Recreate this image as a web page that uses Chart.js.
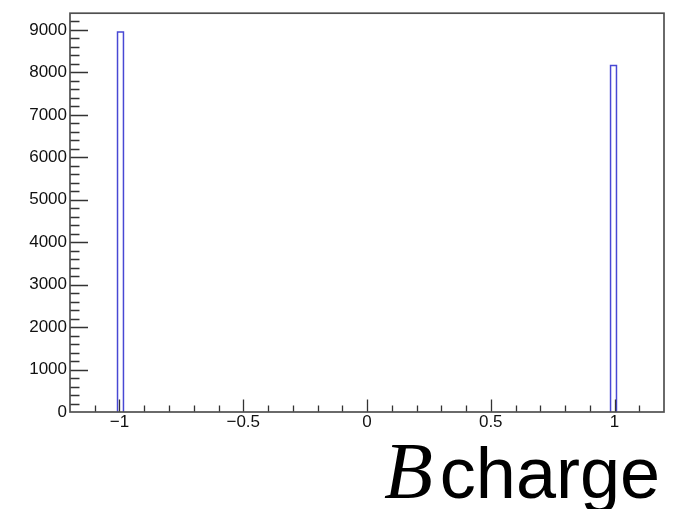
<!DOCTYPE html>
<html>
<head>
<meta charset="utf-8">
<script src="https://cdn.jsdelivr.net/npm/chart.js@4.4.0/dist/chart.umd.min.js"></script>
<style>
  html, body { margin: 0; padding: 0; background: #ffffff; }
  canvas { display: block; }
</style>
</head>
<body>
<canvas id="c" width="681" height="509"></canvas>
<script>
// ---- data ----
const binLow    = [-1.008, 0.984];   // lower edge of each filled bin
const binHigh   = [-0.984, 1.008];   // upper edge of each filled bin
const binCounts = [8950, 8160];      // entries in each filled bin

const xTickValues = [-1, -0.5, 0, 0.5, 1];
const xTickLabels = ['\u22121', '\u22120.5', '0', '0.5', '1'];
const yTickValues = [0, 1000, 2000, 3000, 4000, 5000, 6000, 7000, 8000, 9000];
const yTickLabels = ['0', '1000', '2000', '3000', '4000', '5000', '6000', '7000', '8000', '9000'];

const xRange = [-1.2, 1.2];
const yMax = 9395;
const xMinorStep = 0.1;
const yMinorStep = 200;
const titleItalic = 'B';
const titleText = 'charge';

// build histogram outline points from bin arrays
const histPoints = [];
for (let i = 0; i < binCounts.length; i++) {
  histPoints.push({x: binLow[i], y: 0});
  histPoints.push({x: binLow[i], y: binCounts[i]});
  histPoints.push({x: binHigh[i], y: binCounts[i]});
  histPoints.push({x: binHigh[i], y: 0});
  if (i < binCounts.length - 1) histPoints.push({x: (binHigh[i] + binLow[i + 1]) / 2, y: null});
}

const rootAxes = {
  id: 'rootAxes',
  afterDatasetsDraw(chart) {
    const ctx = chart.ctx;
    const xs = chart.scales.x, ys = chart.scales.y;
    const a = chart.chartArea;
    ctx.save();
    ctx.strokeStyle = '#333333';
    ctx.lineWidth = 1.3;
    ctx.beginPath();
    const nx = Math.round((xRange[1] - xRange[0]) / xMinorStep);
    for (let k = 1; k < nx; k++) {
      const v = xRange[0] + k * xMinorStep;
      const isMajor = xTickValues.some(t => Math.abs(t - v) < 1e-6);
      const px = Math.round(xs.getPixelForValue(v)) + 0.5;
      const len = isMajor ? 12.5 : 6.5;
      ctx.moveTo(px, a.bottom);
      ctx.lineTo(px, a.bottom - len);
    }
    for (let v = yMinorStep; v < yMax; v += yMinorStep) {
      const isMajor = yTickValues.includes(v);
      const py = Math.round(ys.getPixelForValue(v)) + 0.5;
      const len = isMajor ? 18 : 9.5;
      ctx.moveTo(a.left, py);
      ctx.lineTo(a.left + len, py);
    }
    ctx.stroke();
    ctx.strokeStyle = '#505050';
    ctx.lineWidth = 1.7;
    ctx.strokeRect(a.left, a.top, a.right - a.left, a.bottom - a.top);
    ctx.restore();
  },
  afterDraw(chart) {
    const ctx = chart.ctx;
    ctx.save();
    ctx.fillStyle = '#000000';
    ctx.textBaseline = 'alphabetic';
    ctx.textAlign = 'left';
    ctx.font = '72px "Liberation Sans", Arial, sans-serif';
    const wC = ctx.measureText(titleText).width;
    const xC = 660 - wC;
    const baseY = 498;
    ctx.fillText(titleText, xC, baseY);
    ctx.font = 'italic 80px "Liberation Serif", "Times New Roman", serif';
    const wB = ctx.measureText(titleItalic).width;
    ctx.fillText(titleItalic, xC - wB - 7, baseY);
    ctx.restore();
  }
};

const tickFont = { family: '"Liberation Sans", Arial, sans-serif', size: 17 };

new Chart(document.getElementById('c'), {
  type: 'line',
  data: {
    datasets: [{
      data: histPoints,
      borderColor: 'rgb(72,72,212)',
      borderWidth: 1.5,
      pointRadius: 0,
      fill: false,
      tension: 0,
      spanGaps: false
    }]
  },
  options: {
    responsive: false,
    animation: false,
    devicePixelRatio: 1,
    layout: { padding: { top: 8, right: 17, left: 0, bottom: 0 } },
    plugins: { legend: { display: false }, tooltip: { enabled: false }, title: { display: false } },
    scales: {
      x: {
        type: 'linear',
        min: xRange[0],
        max: xRange[1],
        grid: { display: false, drawTicks: false },
        border: { display: false },
        afterBuildTicks(scale) { scale.ticks = xTickValues.map(v => ({ value: v })); },
        afterFit(scale) { scale.height = 97; },
        ticks: {
          padding: 0,
          autoSkip: false,
          maxRotation: 0,
          color: '#111111',
          font: tickFont,
          callback(value) {
            const i = xTickValues.findIndex(t => Math.abs(t - value) < 1e-9);
            return i >= 0 ? xTickLabels[i] : '';
          }
        }
      },
      y: {
        type: 'linear',
        min: 0,
        max: yMax,
        grid: { display: false, drawTicks: false },
        border: { display: false },
        afterBuildTicks(scale) { scale.ticks = yTickValues.map(v => ({ value: v })); },
        afterFit(scale) { scale.width = 70; },
        ticks: {
          padding: 3,
          autoSkip: false,
          color: '#111111',
          font: tickFont,
          callback(value) {
            const i = yTickValues.indexOf(value);
            return i >= 0 ? yTickLabels[i] : '';
          }
        }
      }
    }
  },
  plugins: [rootAxes]
});
</script>
</body>
</html>
